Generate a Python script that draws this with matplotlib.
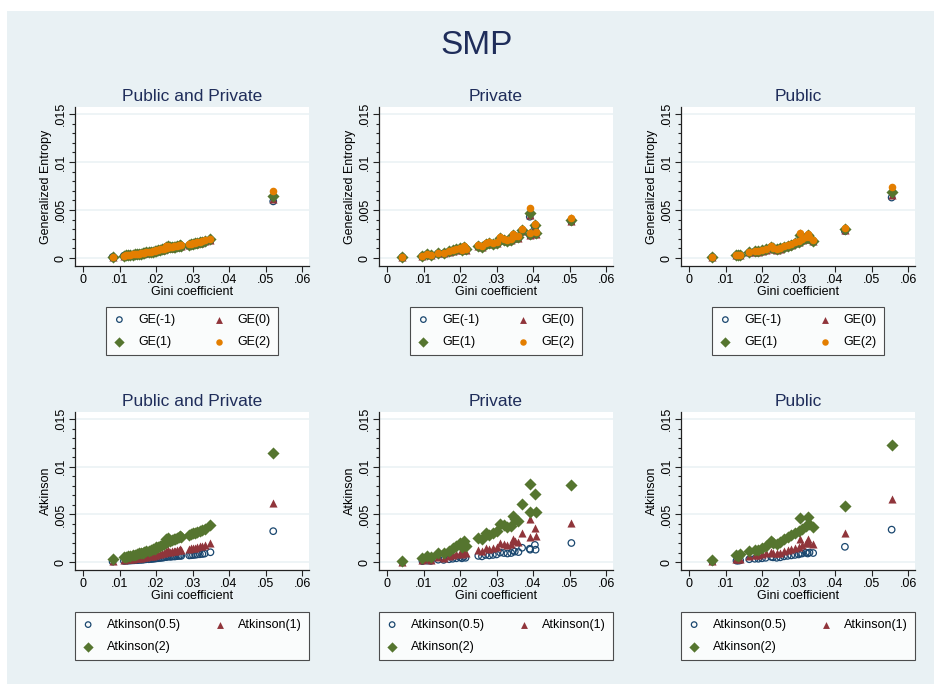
import matplotlib
matplotlib.use("Agg")
import matplotlib.pyplot as plt
from matplotlib.patches import Rectangle
from matplotlib.ticker import FixedLocator, FuncFormatter

# ---------------- data ----------------
# Public and Private
gini_pp = [0.0081, 0.0112, 0.0118, 0.0124, 0.0130, 0.0136, 0.0141, 0.0147, 0.0152, 0.0158, 0.0163,
           0.0167, 0.0172, 0.0180, 0.0186, 0.0191, 0.0196, 0.0201, 0.0206, 0.0211, 0.0216, 0.0221,
           0.0226, 0.0229, 0.0233, 0.0238, 0.0243, 0.0248, 0.0252, 0.0257, 0.0262, 0.0266, 0.0269,
           0.0291, 0.0296, 0.0301, 0.0307, 0.0313, 0.0320, 0.0327, 0.0333, 0.0349, 0.0521]
gem1_pp = [0.00010, 0.00024, 0.00027, 0.00029, 0.00031, 0.00034, 0.00036, 0.00039, 0.00042, 0.00045, 0.00048,
           0.00052, 0.00055, 0.00057, 0.00061, 0.00064, 0.00068, 0.00074, 0.00078, 0.00082, 0.00086, 0.00091,
           0.00113, 0.00100, 0.00118, 0.00104, 0.00109, 0.00113, 0.00111, 0.00118, 0.00123, 0.00128, 0.00123,
           0.00132, 0.00137, 0.00140, 0.00144, 0.00151, 0.00156, 0.00161, 0.00168, 0.00184, 0.00590]
ge0_pp = [0.00010, 0.00024, 0.00027, 0.00029, 0.00032, 0.00035, 0.00037, 0.00040, 0.00043, 0.00046, 0.00049,
          0.00053, 0.00056, 0.00058, 0.00062, 0.00066, 0.00070, 0.00076, 0.00080, 0.00084, 0.00088, 0.00093,
          0.00116, 0.00102, 0.00121, 0.00107, 0.00112, 0.00116, 0.00114, 0.00121, 0.00126, 0.00131, 0.00126,
          0.00136, 0.00141, 0.00144, 0.00148, 0.00155, 0.00160, 0.00165, 0.00173, 0.00189, 0.00610]
ge1_pp = [0.00010, 0.00025, 0.00028, 0.00030, 0.00033, 0.00036, 0.00038, 0.00041, 0.00044, 0.00047, 0.00050,
          0.00055, 0.00058, 0.00060, 0.00064, 0.00068, 0.00072, 0.00078, 0.00082, 0.00086, 0.00090, 0.00096,
          0.00120, 0.00105, 0.00125, 0.00110, 0.00115, 0.00120, 0.00118, 0.00125, 0.00130, 0.00135, 0.00130,
          0.00140, 0.00145, 0.00148, 0.00152, 0.00160, 0.00165, 0.00170, 0.00178, 0.00195, 0.00650]
ge2_pp = [0.00011, 0.00026, 0.00029, 0.00031, 0.00034, 0.00037, 0.00039, 0.00042, 0.00045, 0.00048, 0.00052,
          0.00057, 0.00060, 0.00062, 0.00066, 0.00070, 0.00074, 0.00081, 0.00085, 0.00089, 0.00093, 0.00099,
          0.00125, 0.00108, 0.00130, 0.00114, 0.00119, 0.00124, 0.00122, 0.00129, 0.00135, 0.00140, 0.00135,
          0.00145, 0.00150, 0.00153, 0.00158, 0.00166, 0.00171, 0.00176, 0.00185, 0.00202, 0.00700]
a05_pp = [0.00005, 0.00012, 0.00014, 0.00015, 0.00016, 0.00018, 0.00019, 0.00020, 0.00022, 0.00023, 0.00025,
          0.00027, 0.00029, 0.00030, 0.00032, 0.00034, 0.00036, 0.00039, 0.00041, 0.00043, 0.00045, 0.00048,
          0.00060, 0.00052, 0.00062, 0.00055, 0.00057, 0.00060, 0.00059, 0.00062, 0.00065, 0.00067, 0.00065,
          0.00070, 0.00072, 0.00074, 0.00076, 0.00080, 0.00082, 0.00085, 0.00089, 0.00103, 0.00324]
a1_pp = [0.00010, 0.00025, 0.00028, 0.00030, 0.00033, 0.00036, 0.00038, 0.00041, 0.00044, 0.00047, 0.00050,
         0.00055, 0.00058, 0.00060, 0.00064, 0.00068, 0.00072, 0.00078, 0.00082, 0.00086, 0.00090, 0.00096,
         0.00120, 0.00105, 0.00125, 0.00110, 0.00115, 0.00120, 0.00118, 0.00125, 0.00130, 0.00135, 0.00130,
         0.00140, 0.00145, 0.00148, 0.00152, 0.00160, 0.00165, 0.00170, 0.00178, 0.00198, 0.00614]
a2_pp = [0.0003, 0.0005, 0.00055, 0.0006, 0.00065, 0.0007, 0.00075, 0.0008, 0.0009, 0.00095, 0.0010,
         0.0011, 0.0012, 0.0012, 0.0013, 0.00135, 0.0014, 0.0016, 0.0016, 0.0017, 0.0018, 0.0019,
         0.0024, 0.0021, 0.0025, 0.0022, 0.0023, 0.0024, 0.0024, 0.0025, 0.0026, 0.0027, 0.0026,
         0.0028, 0.0029, 0.0030, 0.0030, 0.0032, 0.0033, 0.0034, 0.0035, 0.0039, 0.0114]

# Private
gini_pr = [0.0042, 0.0097, 0.0110, 0.0120, 0.0140, 0.0155, 0.0170, 0.0180, 0.0190, 0.0200, 0.0205,
           0.0210, 0.0215, 0.0250, 0.0260, 0.0270, 0.0280, 0.0290, 0.0300, 0.0310, 0.0320, 0.0330,
           0.0340, 0.0345, 0.0350, 0.0360, 0.0370, 0.0391, 0.0392, 0.0405, 0.0407, 0.0505]
gem1_pr = [0.0001, 0.0002, 0.00038, 0.00028, 0.00047, 0.00047, 0.00066, 0.00075, 0.00085, 0.00094, 0.0008,
           0.00113, 0.00085, 0.00122, 0.00113, 0.00141, 0.0015, 0.00141, 0.0015, 0.00197, 0.00179, 0.00169,
           0.00179, 0.00226, 0.00207, 0.00207, 0.00273, 0.0043, 0.00235, 0.0032, 0.00245, 0.00378]
ge0_pr = [0.0001, 0.0002, 0.00039, 0.00029, 0.00048, 0.00048, 0.00068, 0.00077, 0.00087, 0.00097, 0.00082,
          0.00116, 0.00087, 0.00126, 0.00116, 0.00145, 0.00155, 0.00145, 0.00155, 0.00203, 0.00184, 0.00174,
          0.00184, 0.00232, 0.00213, 0.00213, 0.00281, 0.0045, 0.00242, 0.00329, 0.00252, 0.00388]
ge1_pr = [0.0001, 0.0002, 0.0004, 0.0003, 0.0005, 0.0005, 0.0007, 0.0008, 0.0009, 0.0010, 0.00085,
          0.0012, 0.0009, 0.0013, 0.0012, 0.0015, 0.0016, 0.0015, 0.0016, 0.0021, 0.0019, 0.0018,
          0.0019, 0.0024, 0.0022, 0.0022, 0.0029, 0.0047, 0.0025, 0.0034, 0.0026, 0.0040]
ge2_pr = [0.0001, 0.0002, 0.00042, 0.00031, 0.00052, 0.00052, 0.00073, 0.00083, 0.00094, 0.00104, 0.00088,
          0.00125, 0.00094, 0.00135, 0.00125, 0.00156, 0.00167, 0.00156, 0.00167, 0.00219, 0.00198, 0.00188,
          0.00198, 0.0025, 0.00229, 0.00229, 0.00302, 0.0052, 0.0026, 0.00354, 0.00271, 0.00412]
a05_pr = [0.00003, 0.0001, 0.00015, 0.00012, 0.00025, 0.00023, 0.0003, 0.00035, 0.0004, 0.0005, 0.0004,
          0.00055, 0.00045, 0.00065, 0.0006, 0.00075, 0.0007, 0.00075, 0.0008, 0.001, 0.00095, 0.0009,
          0.00095, 0.0012, 0.0011, 0.00105, 0.0015, 0.0014, 0.0013, 0.0018, 0.0013, 0.002]
a1_pr = [0.00005, 0.0002, 0.0003, 0.00025, 0.0005, 0.00045, 0.0006, 0.0007, 0.0008, 0.001, 0.0008,
         0.0011, 0.0009, 0.0013, 0.0012, 0.0015, 0.0014, 0.0015, 0.0016, 0.002, 0.0019, 0.0018,
         0.0019, 0.0024, 0.0022, 0.0021, 0.0031, 0.0045, 0.0026, 0.0036, 0.0027, 0.0041]
a2_pr = [0.0001, 0.00045, 0.0006, 0.0005, 0.001, 0.0009, 0.0012, 0.0015, 0.0017, 0.002, 0.0016,
         0.0022, 0.0017, 0.0025, 0.0024, 0.0031, 0.0028, 0.003, 0.0033, 0.004, 0.0039, 0.0037,
         0.0038, 0.0048, 0.0045, 0.0043, 0.0061, 0.0082, 0.0052, 0.0071, 0.0052, 0.0081]

# Public
gini_pu = [0.0064, 0.0130, 0.0135, 0.0140, 0.0165, 0.0180, 0.0190, 0.0200, 0.0210, 0.0225, 0.0230,
           0.0240, 0.0250, 0.0260, 0.0270, 0.0280, 0.0290, 0.0300, 0.0305, 0.0310, 0.0320, 0.0325,
           0.0330, 0.0340, 0.0427, 0.0555]
gem1_pu = [0.0001, 0.00028, 0.00028, 0.00033, 0.00056, 0.00066, 0.00066, 0.00075, 0.00085, 0.00113, 0.00094,
           0.00085, 0.00094, 0.00113, 0.00122, 0.00132, 0.0015, 0.0016, 0.00226, 0.00179, 0.00198, 0.00226,
           0.00198, 0.00169, 0.0028, 0.0063]
ge0_pu = [0.0001, 0.00029, 0.00029, 0.00034, 0.00058, 0.00068, 0.00068, 0.00077, 0.00087, 0.00116, 0.00097,
          0.00087, 0.00097, 0.00116, 0.00126, 0.00135, 0.00155, 0.00164, 0.00232, 0.00184, 0.00203, 0.00232,
          0.00203, 0.00174, 0.0029, 0.0066]
ge1_pu = [0.0001, 0.0003, 0.0003, 0.00035, 0.0006, 0.0007, 0.0007, 0.0008, 0.0009, 0.0012, 0.001,
          0.0009, 0.001, 0.0012, 0.0013, 0.0014, 0.0016, 0.0017, 0.0024, 0.0019, 0.0021, 0.0024,
          0.0021, 0.0018, 0.003, 0.0069]
ge2_pu = [0.0001, 0.00031, 0.00031, 0.00036, 0.00062, 0.00073, 0.00073, 0.00083, 0.00094, 0.00125, 0.00104,
          0.00094, 0.00104, 0.00125, 0.00135, 0.00146, 0.00167, 0.00177, 0.0026, 0.00198, 0.00219, 0.0025,
          0.00219, 0.00188, 0.0031, 0.0074]
a05_pu = [0.00005, 0.00015, 0.00015, 0.00018, 0.0003, 0.00035, 0.00035, 0.0004, 0.00045, 0.00055, 0.0005,
          0.00045, 0.0005, 0.0006, 0.00065, 0.0007, 0.00075, 0.0008, 0.0009, 0.0009, 0.001, 0.0009,
          0.001, 0.00095, 0.0016, 0.0034]
a1_pu = [0.0001, 0.0003, 0.0003, 0.00035, 0.0006, 0.0007, 0.0007, 0.0008, 0.0009, 0.0011, 0.001,
         0.0009, 0.001, 0.0012, 0.0013, 0.0014, 0.0015, 0.0016, 0.0024, 0.0018, 0.002, 0.0024,
         0.002, 0.0019, 0.0031, 0.0066]
a2_pu = [0.0002, 0.0007, 0.0006, 0.0008, 0.0012, 0.0013, 0.0013, 0.0015, 0.0017, 0.0022, 0.002,
         0.0019, 0.0021, 0.0024, 0.0026, 0.0028, 0.003, 0.0033, 0.0046, 0.0035, 0.0038, 0.0047,
         0.0040, 0.0037, 0.0059, 0.0123]

panel_titles = ["Public and Private", "Private", "Public"]
ge_labels = ["GE(-1)", "GE(0)", "GE(1)", "GE(2)"]
atk_labels = ["Atkinson(0.5)", "Atkinson(1)", "Atkinson(2)"]
x_ticks = [0, 0.01, 0.02, 0.03, 0.04, 0.05, 0.06]
y_ticks = [0, 0.005, 0.01, 0.015]

# ---------------- style ----------------
W, H = 934, 684
BG = "#e9f1f4"
NAVY = "#1a476f"
MAROON = "#90353b"
GREEN = "#55752f"
ORANGE = "#e37e00"
TITLE_C = "#1f2d5a"
plt.rcParams["font.family"] = ["Liberation Sans", "DejaVu Sans"]

fig = plt.figure(figsize=(W / 100, H / 100), dpi=100)
fig.patch.set_facecolor("white")
fig.patches.append(Rectangle((7 / W, 0), 1, 1 - 11 / H, transform=fig.transFigure,
                             facecolor=BG, edgecolor="none", zorder=-10))

fig.text(477 / W, 1 - 45 / H, "SMP", ha="center", va="center", fontsize=24, color=TITLE_C)


def px_axes(x0, y0, x1, y1):
    return fig.add_axes([x0 / W, 1 - y1 / H, (x1 - x0) / W, (y1 - y0) / H])


def style_axes(ax, title, ylabel):
    ax.set_facecolor("white")
    ax.set_xlim(-0.0022, 0.0619)
    ax.set_ylim(-0.00083, 0.01573)
    for s in ["top", "right"]:
        ax.spines[s].set_visible(False)
    for s in ["left", "bottom"]:
        ax.spines[s].set_color("#222222")
        ax.spines[s].set_linewidth(0.9)
    ax.set_xticks(x_ticks)
    ax.set_yticks(y_ticks)
    ax.yaxis.set_minor_locator(FixedLocator([i * 0.001 for i in range(16) if i % 5]))
    fmt = FuncFormatter(lambda v, p: "0" if abs(v) < 1e-12 else ("%g" % v).lstrip("0"))
    ax.xaxis.set_major_formatter(fmt)
    ax.yaxis.set_major_formatter(fmt)
    ax.tick_params(axis="both", which="major", length=4, width=0.8, color="#222222",
                   labelsize=9, pad=2)
    ax.tick_params(axis="y", which="minor", length=2.5, width=0.8, color="#222222")
    for lab in ax.get_yticklabels():
        lab.set_rotation(90)
        lab.set_va("center")
    ax.grid(axis="y", color=BG, linewidth=1.1)
    ax.set_axisbelow(True)
    ax.set_title(title, fontsize=12.5, color=TITLE_C, pad=4)
    ax.set_xlabel("Gini coefficient", fontsize=9, labelpad=0)
    ax.set_ylabel(ylabel, fontsize=9, labelpad=2)


def add_legend(ax, handles, labels, cx, top, colspace):
    leg = ax.legend(handles, labels, ncol=2, loc="upper center",
                    bbox_to_anchor=(cx, 1 - top / H), bbox_transform=fig.transFigure,
                    fontsize=9, frameon=True, fancybox=False, edgecolor="#222222",
                    handlelength=1.0, handletextpad=1.0, columnspacing=colspace,
                    borderpad=0.55, borderaxespad=0, labelspacing=0.8, markerscale=0.85)
    leg.get_frame().set_linewidth(0.8)


panels_x = [(75, 309), (379, 613), (681, 915)]
ge_data = [(gini_pp, gem1_pp, ge0_pp, ge1_pp, ge2_pp),
           (gini_pr, gem1_pr, ge0_pr, ge1_pr, ge2_pr),
           (gini_pu, gem1_pu, ge0_pu, ge1_pu, ge2_pu)]
atk_data = [(gini_pp, a05_pp, a1_pp, a2_pp),
            (gini_pr, a05_pr, a1_pr, a2_pr),
            (gini_pu, a05_pu, a1_pu, a2_pu)]

# top row: generalized entropy
for i, (x0, x1) in enumerate(panels_x):
    ax = px_axes(x0, 107, x1, 266)
    g, gm1, g0, g1, g2 = ge_data[i]
    h1 = ax.scatter(g, gm1, s=22, marker="o", facecolors="none", edgecolors=NAVY, linewidths=0.9, zorder=3)
    h2 = ax.scatter(g, g0, s=34, marker="^", color=MAROON, linewidths=0, zorder=4)
    h3 = ax.scatter(g, g1, s=38, marker="D", color=GREEN, linewidths=0, zorder=5)
    h4 = ax.scatter(g, g2, s=30, marker="o", color=ORANGE, linewidths=0, zorder=6)
    style_axes(ax, panel_titles[i], "Generalized Entropy")
    # legend fills column-wise, so order handles to read row by row
    add_legend(ax, [h1, h3, h2, h4], [ge_labels[0], ge_labels[2], ge_labels[1], ge_labels[3]],
               (x0 + x1) / 2 / W, 307, 3.0)

# bottom row: atkinson
for i, (x0, x1) in enumerate(panels_x):
    ax = px_axes(x0, 412, x1, 570)
    g, a05, a1, a2 = atk_data[i]
    h1 = ax.scatter(g, a05, s=22, marker="o", facecolors="none", edgecolors=NAVY, linewidths=0.9, zorder=3)
    h2 = ax.scatter(g, a1, s=34, marker="^", color=MAROON, linewidths=0, zorder=4)
    h3 = ax.scatter(g, a2, s=38, marker="D", color=GREEN, linewidths=0, zorder=5)
    style_axes(ax, panel_titles[i], "Atkinson")
    add_legend(ax, [h1, h3, h2], [atk_labels[0], atk_labels[2], atk_labels[1]],
               (x0 + x1) / 2 / W, 612, 2.6)

fig.savefig("out.png", dpi=100, facecolor=fig.get_facecolor())
